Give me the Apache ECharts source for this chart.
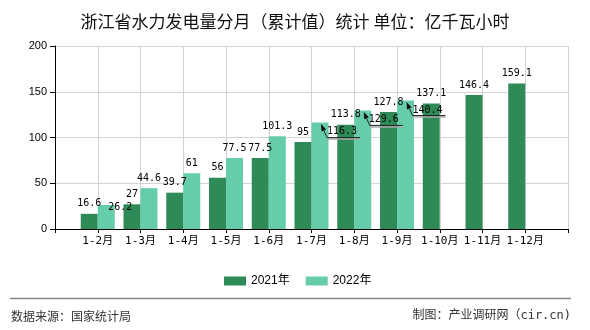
<!DOCTYPE html>
<html><head><meta charset="utf-8">
<script src="https://cdn.jsdelivr.net/npm/echarts@6/dist/echarts.min.js"></script>
<style>html,body{margin:0;padding:0;background:#fff}#c{width:590px;height:330px}</style>
</head><body><div id="c"></div>
<script>
const categories = ['1-2月','1-3月','1-4月','1-5月','1-6月','1-7月','1-8月','1-9月','1-10月','1-11月','1-12月'];
const values2021 = [16.6, 27, 39.7, 56, 77.5, 95, 113.8, 127.8, 137.1, 146.4, 159.1];
const values2022 = [26.2, 44.6, 61, 77.5, 101.3, 116.3, 129.6, 140.4];
const seriesNames = ['2021年', '2022年'];
const yTickValues = [0, 50, 100, 150, 200];

// styling: label shifts (px) and which shifted labels have leader lines
const labelShift2022 = {0: [14, 12], 5: [22, 19], 6: [21, 19], 7: [22, 20]};
const leaderIndex2022 = [5, 6, 7];

const BAR_W = 17;
const xData = [''].concat(categories, ['']);
function pad(arr) {
  const out = [null].concat(arr);
  while (out.length < xData.length) out.push(null);
  return out;
}
const monoFont = "'DejaVu Sans Mono', 'Noto Sans CJK SC', monospace";
const d2022 = values2022.map((v, i) => labelShift2022[i] ? {value: v, label: {offset: labelShift2022[i]}} : v);

const chart = echarts.init(document.getElementById('c'), null, {renderer: 'canvas'});
chart.setOption({
  backgroundColor: '#fff',
  animation: false,
  title: {
    text: '浙江省水力发电量分月（累计值）统计 单位：亿千瓦小时',
    left: 'center', top: 8,
    textStyle: {fontSize: 17, fontWeight: 'normal', color: '#111', fontFamily: "'Noto Sans CJK SC'"}
  },
  legend: {
    data: seriesNames, left: 219, top: 270,
    itemWidth: 22, itemHeight: 9, itemGap: 16, icon: 'rect',
    textStyle: {fontSize: 12, color: '#000', fontFamily: "'Liberation Sans', 'Noto Sans CJK SC'"}
  },
  grid: {left: 55, right: 22, top: 46, bottom: 101, containLabel: false},
  xAxis: {
    type: 'category', data: xData, boundaryGap: false,
    axisLine: {lineStyle: {color: '#000', width: 1}},
    axisTick: {show: true, length: 4, lineStyle: {color: '#000'}, interval: 0},
    axisLabel: {interval: 0, margin: 7, fontSize: 11, color: '#000', fontFamily: monoFont},
    splitLine: {show: true, interval: 0, lineStyle: {color: '#d3d3d3', width: 1}}
  },
  yAxis: {
    type: 'value', min: yTickValues[0], max: yTickValues[yTickValues.length - 1],
    interval: yTickValues[1] - yTickValues[0],
    axisLine: {show: true, lineStyle: {color: '#000', width: 1}},
    axisTick: {show: true, length: 5, lineStyle: {color: '#000'}},
    axisLabel: {margin: 8, fontSize: 11, color: '#000', fontFamily: "'Liberation Sans'"},
    splitLine: {show: true, lineStyle: {color: '#d3d3d3', width: 1}}
  },
  series: [
    {
      name: seriesNames[0], type: 'bar', data: pad(values2021), barWidth: BAR_W, barGap: '0%',
      itemStyle: {color: '#2E8B57'},
      label: {show: true, position: 'top', distance: 5, fontSize: 10, color: '#000', fontFamily: monoFont}
    },
    {
      name: seriesNames[1], type: 'bar', data: pad(d2022), barWidth: BAR_W, barGap: '0%',
      itemStyle: {color: '#66CDAA'},
      label: {show: true, position: 'top', distance: 5, fontSize: 10, color: '#000', fontFamily: monoFont}
    },
    {
      type: 'custom', silent: true, z: 10, xAxisIndex: 0, yAxisIndex: 0,
      data: leaderIndex2022.map(i => [i + 1, values2022[i]]),
      encode: {x: 0, y: 1},
      renderItem: function (params, api) {
        const p = api.coord([api.value(0), api.value(1)]);
        const bcx = p[0] + BAR_W / 2, top = p[1];
        const T = [bcx + 1, top + 1.5], C = [bcx + 7, top + 15], E = [bcx + 40, top + 15];
        let dx = T[0] - C[0], dy = T[1] - C[1];
        const L = Math.sqrt(dx * dx + dy * dy); dx /= L; dy /= L;
        const B = [T[0] - dx * 7, T[1] - dy * 7];
        const n = [-dy, dx];
        return {
          type: 'group',
          children: [
            {type: 'polyline', shape: {points: [[C[0], C[1] + 1.5], [E[0], E[1] + 1.5]]}, style: {stroke: '#aaa', lineWidth: 1.5, fill: null}},
            {type: 'polyline', shape: {points: [B, C, E]}, style: {stroke: '#222', lineWidth: 1, fill: null}},
            {type: 'polygon', shape: {points: [T, [B[0] + n[0] * 2.5, B[1] + n[1] * 2.5], [B[0] - n[0] * 2.5, B[1] - n[1] * 2.5]]}, style: {fill: '#111'}}
          ]
        };
      }
    }
  ],
  graphic: [
    {type: 'line', shape: {x1: 10, y1: 298.5, x2: 571, y2: 298.5}, style: {stroke: '#888', lineWidth: 1.5}},
    {type: 'text', left: 11, top: 310, style: {text: '数据来源：国家统计局', fontSize: 12, fill: '#333', fontFamily: "'Noto Sans CJK SC'"}},
    {type: 'text', right: 19, top: 310, style: {text: '制图：产业调研网（cir.cn)', fontSize: 12, fill: '#333', fontFamily: "'DejaVu Sans Mono', 'Noto Sans CJK SC'"}}
  ]
});
</script></body></html>
